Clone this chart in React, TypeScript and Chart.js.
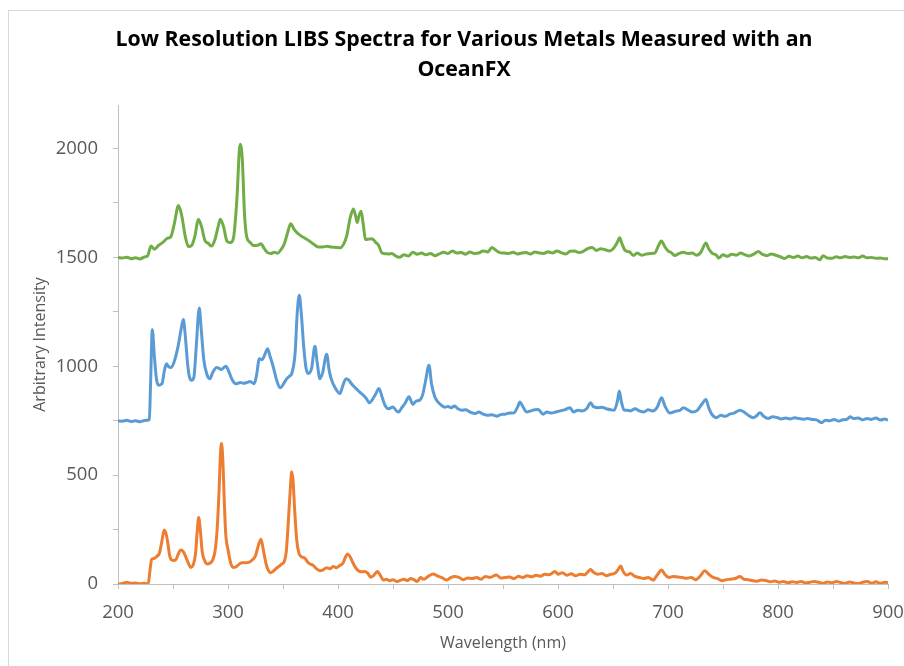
import React, { useEffect, useRef } from 'react';
import { Chart, registerables } from 'chart.js';

Chart.register(...registerables);

const titleLines = ['Low Resolution LIBS Spectra for Various Metals Measured with an', 'OceanFX'];
const xAxisTitle = 'Wavelength (nm)';
const yAxisTitle = 'Arbitrary Intensity';

// tick marks (labels only on the hundreds / five-hundreds)
const xTickValues = [200, 250, 300, 350, 400, 450, 500, 550, 600, 650, 700, 750, 800, 850, 900];
const xTickLabels = ['200', '', '300', '', '400', '', '500', '', '600', '', '700', '', '800', '', '900'];
const yTickValues = [0, 250, 500, 750, 1000, 1250, 1500, 1750, 2000];
const yTickLabels = ['0', '', '500', '', '1000', '', '1500', '', '2000'];

// [wavelength (nm), intensity]
const greenSpectrum: number[][] = [
  [200, 1500], [204, 1497], [208, 1501], [212, 1494], [216, 1498], [220, 1493], [224, 1502], [227, 1508],
  [230, 1552], [233, 1538], [237, 1556], [241, 1570], [245, 1588], [248, 1595], [251, 1650], [255, 1738],
  [258, 1690], [261, 1600], [264, 1550], [267, 1555], [270, 1600], [273, 1675], [276, 1640], [279, 1578],
  [282, 1565], [285, 1552], [288, 1580], [291, 1640], [293, 1675], [296, 1640], [299, 1575], [302, 1568],
  [305, 1590], [308, 1760], [311, 2020], [313, 1950], [315, 1700], [317, 1595], [320, 1570], [323, 1555],
  [327, 1556], [330, 1563], [333, 1540], [336, 1522], [339, 1518], [342, 1524], [345, 1519], [348, 1535],
  [351, 1560], [354, 1610], [357, 1655], [360, 1630], [363, 1612], [366, 1600], [370, 1588], [374, 1575],
  [378, 1560], [382, 1548], [386, 1548], [390, 1551], [394, 1548], [398, 1546], [402, 1544], [405, 1560],
  [408, 1600], [411, 1680], [414, 1722], [416, 1690], [417.5, 1660], [419, 1690], [421, 1712], [423, 1650],
  [425, 1582], [428, 1584], [431, 1586], [434, 1570], [437, 1555], [440, 1520], [443, 1517], [446, 1516],
  [449, 1518], [452, 1508], [456, 1501], [460, 1512], [464, 1506], [468, 1524], [472, 1515], [476, 1520],
  [480, 1512], [484, 1518], [488, 1508], [492, 1516], [496, 1524], [500, 1518], [504, 1530], [508, 1520],
  [512, 1522], [516, 1515], [520, 1525], [524, 1518], [528, 1520], [532, 1530], [536, 1525], [540, 1545],
  [543, 1535], [547, 1522], [551, 1520], [555, 1518], [559, 1524], [563, 1516], [567, 1520], [571, 1522],
  [575, 1516], [579, 1525], [583, 1520], [587, 1518], [591, 1526], [595, 1520], [599, 1530], [603, 1522],
  [607, 1516], [611, 1528], [615, 1530], [619, 1522], [623, 1528], [627, 1540], [631, 1545], [635, 1532],
  [639, 1540], [643, 1535], [647, 1530], [651, 1545], [654, 1570], [656, 1590], [658, 1565], [661, 1532],
  [665, 1525], [668.6, 1509], [672, 1520], [676, 1510], [680, 1515], [684, 1518], [688, 1520], [691, 1550],
  [694, 1575], [697, 1550], [700, 1530], [703, 1522], [706, 1509], [710, 1518], [714, 1524], [718, 1518],
  [722, 1520], [726, 1510], [730, 1525], [734.5, 1566], [737, 1540], [740, 1520], [744, 1510], [746, 1497],
  [750, 1512], [754, 1505], [758, 1515], [762, 1510], [766, 1520], [770, 1512], [774, 1507], [778, 1515],
  [782, 1527], [786, 1514], [790, 1508], [794, 1516], [798, 1510], [802, 1503], [806, 1495], [810, 1505],
  [814, 1500], [818, 1506], [822, 1498], [826, 1504], [830, 1497], [834, 1500], [838, 1489], [841, 1508],
  [845, 1497], [849, 1496], [853, 1503], [857, 1498], [861, 1504], [865, 1500], [869, 1502], [873, 1498],
  [877, 1506], [881, 1498], [885, 1500], [889, 1496], [893, 1497], [897, 1494], [900, 1494],
];

const blueSpectrum: number[][] = [
  [200, 749], [204, 748], [208, 752], [212, 746], [216, 750], [220, 745], [224, 751], [228.5, 755],
  [229.5, 900], [231.2, 1168], [233, 1050], [235, 940], [237, 913], [240, 920], [242, 975], [244, 1012],
  [246, 998], [248, 994], [251, 1020], [254.8, 1096], [257, 1160], [259.4, 1215], [261, 1150], [263.3, 1010],
  [265, 950], [267, 936], [269, 950], [271, 1080], [273.9, 1268], [275.5, 1180], [278, 1030], [281, 960],
  [283.6, 943], [286, 970], [289.7, 994], [292, 990], [294, 985], [296.5, 995], [298.2, 1000], [300, 985],
  [303.3, 943], [305.5, 925], [307.9, 920], [311, 925], [314, 922], [317, 925], [320, 930], [322, 925],
  [323.9, 920], [326, 960], [328.5, 1035], [331, 1030], [334, 1060], [336, 1081], [338, 1050], [341, 1000],
  [344, 940], [347.3, 901], [350, 915], [353, 940], [356, 955], [358, 967], [361, 1060], [363, 1250],
  [364.8, 1326], [366.5, 1250], [369, 1080], [371, 990], [373, 967], [376, 990], [379, 1092], [381, 1020],
  [383.6, 943], [386, 970], [389.7, 1055], [392, 980], [394, 940], [397, 905], [401.8, 875], [404, 905],
  [407.3, 943], [410, 935], [413, 915], [417, 895], [420, 880], [423, 867], [426, 850], [428.5, 832],
  [431, 845], [434, 870], [437.3, 898], [440, 860], [442.7, 821], [446, 805], [450, 813], [453, 796],
  [455, 790], [458, 810], [461, 830], [464.5, 860], [468, 825], [471, 840], [474.5, 845], [477, 870],
  [479.5, 930], [482.7, 1005], [485, 920], [488, 860], [491, 835], [494, 821], [497, 812], [500, 815],
  [503, 810], [506, 818], [509, 805], [512.7, 798], [516, 800], [520, 790], [524.8, 783], [528, 790],
  [532, 780], [536, 775], [540, 777], [544, 771], [548, 778], [552, 780], [556, 785], [560, 786],
  [563, 810], [565.5, 836], [568, 815], [571.5, 790], [575, 795], [579, 800], [582, 801], [586.4, 780],
  [590, 790], [594, 785], [598, 790], [602, 795], [606, 800], [611, 810], [614, 790], [618, 798],
  [622, 795], [626, 805], [629.7, 833], [632, 815], [636, 810], [640, 812], [644, 805], [648, 800],
  [651, 798], [654, 840], [655.7, 887], [657.5, 840], [660, 800], [662.4, 798], [666, 795], [670, 805],
  [674, 795], [678, 790], [682, 800], [686, 795], [690, 810], [694.2, 856], [697, 820], [701.8, 785],
  [705, 790], [708, 795], [711, 798], [714, 810], [718, 800], [722, 790], [726, 795], [730, 820],
  [734.5, 847], [737, 810], [739.7, 780], [744, 764], [748, 775], [752, 770], [756, 780], [760, 785],
  [765.5, 798], [769, 790], [773, 775], [777.5, 764], [780, 770], [783.6, 786], [787, 770], [791, 760],
  [795, 768], [799, 765], [803, 758], [807, 762], [811, 758], [815, 763], [819, 760], [823, 757],
  [827, 760], [831, 756], [835, 754], [839.7, 741], [843, 752], [847, 750], [851, 756], [855, 748],
  [859, 754], [863, 757], [865.5, 768], [869, 760], [873, 762], [877, 754], [881, 760], [885, 756],
  [889, 762], [893, 753], [897, 758], [900, 752],
];

const orangeSpectrum: number[][] = [
  [200, 0], [204, 2], [208, 8], [212, 3], [216, 5], [220, 1], [224, 4], [227.5, 0],
  [229, 60], [230.6, 113], [233, 118], [235.5, 128], [237.6, 141], [240, 200], [242, 248], [244, 225],
  [245.5, 180], [247, 130], [248.8, 110], [251, 108], [253, 115], [255, 140], [257, 156], [259.5, 148],
  [262, 120], [264, 95], [266, 76], [268.5, 90], [270.5, 140], [272, 240], [273.3, 306], [274.8, 250],
  [276.5, 150], [279, 105], [281.2, 92], [283.5, 95], [286, 110], [288.2, 150], [290, 240], [291.8, 420],
  [293, 580], [294, 645], [295.2, 580], [296.5, 400], [297.8, 240], [300.3, 150], [302.5, 95], [304.8, 76],
  [307, 78], [309.5, 88], [312.4, 98], [316, 98], [319.5, 101], [322, 110], [325, 130], [327.5, 175],
  [330, 206], [332, 160], [334.5, 95], [336.5, 65], [338.8, 52], [341, 58], [343.5, 70], [346, 80],
  [349, 92], [351, 102], [353, 150], [355, 300], [356.8, 450], [357.9, 515], [359.2, 470], [360.6, 340],
  [362.5, 200], [364.5, 141], [367, 125], [370, 118], [372.5, 100], [374.5, 92], [377, 87], [380, 72],
  [383.6, 61], [386.5, 65], [389.5, 75], [392.7, 70], [395.5, 80], [398.5, 75], [401.5, 85], [404.5, 95],
  [406.5, 120], [408.5, 138], [411, 125], [413.5, 98], [416, 75], [418.5, 61], [421, 56], [424, 57],
  [427, 50], [429.7, 31], [432.5, 40], [435.8, 57], [438.5, 40], [441.2, 18], [444, 22], [447, 15],
  [450, 20], [453.6, 11], [457, 18], [460, 22], [463, 16], [466, 25], [469, 20], [472, 12],
  [475, 30], [478, 22], [482, 35], [486.7, 46], [490, 38], [494, 30], [498.8, 18], [502, 28],
  [506, 35], [510, 30], [514, 20], [518, 28], [522, 25], [526, 30], [530, 22], [534, 35],
  [538, 30], [544, 41], [548, 28], [552, 30], [556, 32], [560, 25], [564, 36], [568, 30],
  [572, 38], [576, 33], [580, 40], [584, 36], [588, 45], [592, 42], [597.3, 57], [600, 45],
  [604, 52], [608, 40], [612, 47], [616, 38], [620, 45], [624, 42], [627, 55], [629.7, 67],
  [632, 55], [636, 45], [640, 48], [644, 38], [648, 45], [652, 50], [654.5, 65], [657, 83],
  [659, 60], [662.4, 41], [666, 48], [670, 35], [674, 30], [678, 25], [682, 30], [686.7, 18],
  [690, 40], [694.2, 64], [697, 45], [701, 30], [705, 35], [709, 32], [713, 30], [717, 26],
  [721, 30], [725, 20], [729, 35], [733.6, 61], [737, 45], [741, 30], [745, 25], [749.1, 15],
  [753, 20], [757, 22], [761, 25], [765.5, 34], [769, 22], [773, 20], [777, 15], [781, 13],
  [785, 18], [789, 16], [793, 10], [797, 14], [801, 8], [805, 12], [809, 6], [813, 10],
  [817, 7], [821, 12], [825, 5], [829, 8], [833, 12], [837, 8], [841, 3], [845, 9],
  [849, 6], [853, 11], [857, 7], [861, 3], [865, 9], [869, 5], [873, 2], [877, 8],
  [881, 12], [885, 3], [889, 10], [893, 3], [897, 8], [900, 6],
];

const xMin = 200;
const xMax = 900;
const yMin = 0;
const yMax = 2200;

const toPoints = (arr: number[][]) => arr.map(([x, y]) => ({ x, y }));

export default function App() {
  const ref = useRef<HTMLCanvasElement>(null);

  useEffect(() => {
    if (!ref.current) return;
    const font = "'Open Sans', 'Noto Sans', sans-serif";
    const axisColor = '#BFBFBF';
    const labelColor = '#595959';
    const lineOpts = { borderWidth: 3, pointRadius: 0, fill: false, cubicInterpolationMode: 'monotone' as const };
    const chart = new Chart(ref.current, {
      type: 'line',
      data: {
        datasets: [
          { label: 'Orange', data: toPoints(orangeSpectrum), borderColor: '#ED7D31', ...lineOpts },
          { label: 'Blue', data: toPoints(blueSpectrum), borderColor: '#5B9BD5', ...lineOpts },
          { label: 'Green', data: toPoints(greenSpectrum), borderColor: '#70AD47', ...lineOpts },
        ],
      },
      options: {
        responsive: false,
        animation: false,
        layout: { padding: { left: 40, right: 16, top: 0, bottom: 0 } },
        plugins: {
          legend: { display: false },
          tooltip: { enabled: false },
          title: {
            display: true,
            text: titleLines,
            color: '#000000',
            font: { family: font, size: 21.3, weight: 'bold', lineHeight: '30px' },
            padding: { top: 25, bottom: 20 },
          },
        },
        scales: {
          x: {
            type: 'linear',
            min: xMin,
            max: xMax,
            afterBuildTicks: (axis: any) => {
              axis.ticks = xTickValues.map((v) => ({ value: v }));
            },
            afterFit: (axis: any) => {
              axis.height = 82;
              axis.paddingLeft = 0;
              axis.paddingRight = 0;
            },
            ticks: {
              autoSkip: false,
              maxRotation: 0,
              minRotation: 0,
              padding: 13,
              color: labelColor,
              font: { family: font, size: 18.5 },
              callback: (_v: any, i: number) => xTickLabels[i] ?? '',
            },
            grid: { display: true, drawOnChartArea: false, drawTicks: true, tickLength: 5, color: axisColor },
            border: { display: true, color: axisColor, width: 1 },
            title: {
              display: true,
              text: xAxisTitle,
              color: labelColor,
              font: { family: font, size: 16 },
              padding: { top: 0, bottom: 13 },
            },
          },
          y: {
            type: 'linear',
            min: yMin,
            max: yMax,
            afterBuildTicks: (axis: any) => {
              axis.ticks = yTickValues.map((v) => ({ value: v }));
            },
            afterFit: (axis: any) => {
              axis.width = 78;
              axis.paddingTop = 0;
              axis.paddingBottom = 0;
            },
            ticks: {
              autoSkip: false,
              padding: 15,
              color: labelColor,
              font: { family: font, size: 18.5 },
              callback: (_v: any, i: number) => yTickLabels[i] ?? '',
            },
            grid: { display: true, drawOnChartArea: false, drawTicks: true, tickLength: 5, color: axisColor },
            border: { display: true, color: axisColor, width: 1 },
            title: {
              display: true,
              text: yAxisTitle,
              color: labelColor,
              font: { family: font, size: 16, lineHeight: 1 },
              padding: { top: -8, bottom: 0 },
            },
          },
        },
      },
    } as any);
    return () => chart.destroy();
  }, []);

  return (
    <div style={{ position: 'fixed', left: 0, top: 0, width: 904, height: 666, overflow: 'hidden', background: '#ffffff' }}>
      <div style={{ position: 'absolute', left: 8, top: 10, width: 1000, height: 1000, border: '1px solid #D9D9D9', boxSizing: 'border-box' }} />
      <canvas ref={ref} width={904} height={666} style={{ position: 'absolute', left: 0, top: 0, width: 904, height: 666 }} />
    </div>
  );
}
